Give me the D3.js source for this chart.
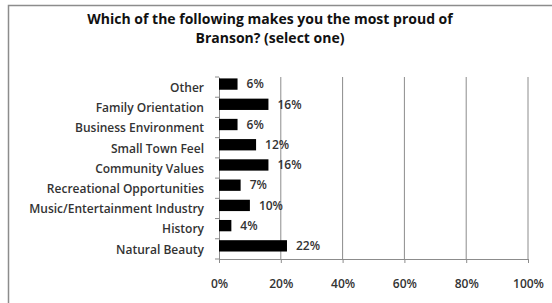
<!DOCTYPE html>
<html>
<head>
<meta charset="utf-8">
<script src="https://cdn.jsdelivr.net/npm/d3@7"></script>
<style>
  body { margin: 0; background: #fff; }
  svg text { font-family: "Open Sans", "Liberation Sans", Arial, sans-serif; fill: #333; }
</style>
</head>
<body>
<div id="chart"></div>
<script>
const categories = ["Other", "Family Orientation", "Business Environment", "Small Town Feel",
  "Community Values", "Recreational Opportunities", "Music/Entertainment Industry", "History", "Natural Beauty"]
const values = [6, 16, 6, 12, 16, 7, 10, 4, 22]
const xTicks = [0, 20, 40, 60, 80, 100]
const titleLines = ["Which of the following makes you the most proud of", "Branson? (select one)"]

const W = 552, H = 303
const margin = {top: 77, left: 219, right: 24, bottom: 44}
const w = W - margin.left - margin.right,
  h = H - margin.top - margin.bottom

const svg = d3.select("#chart").append("svg")
  .attr("width", W)
  .attr("height", H)

// outer chart border
svg.append("rect")
  .attr("x", 8.5).attr("y", 5.5)
  .attr("width", W).attr("height", H)
  .attr("fill", "none")
  .attr("stroke", "#8c8c8c")
  .attr("stroke-width", 1.5)

svg.append("g").selectAll("text")
  .data(titleLines)
  .enter().append("text")
  .attr("x", 270)
  .attr("y", (d, i) => 24 + i * 19)
  .attr("text-anchor", "middle")
  .style("font-weight", "bold")
  .style("font-size", "14px")
  .style("fill", "#111")
  .text(d => d)

const g = svg.append("g")
  .attr("transform", `translate(${margin.left},${margin.top})`)

const x = d3.scaleLinear().domain([0, 100]).range([0, w])
const y = d3.scaleBand().domain(categories).range([0, h])

// vertical gridlines
g.selectAll(".grid")
  .data(xTicks.slice(1))
  .enter().append("line")
  .attr("class", "grid")
  .attr("x1", d => x(d)).attr("x2", d => x(d))
  .attr("y1", 0).attr("y2", h)
  .attr("stroke", "#8c8c8c")
  .attr("stroke-width", 1)

const xAxis = d3.axisBottom(x).tickValues(xTicks).tickFormat(d => d + "%").tickSize(4).tickPadding(16)
g.append("g")
  .attr("transform", `translate(0,${h})`)
  .call(xAxis)
  .call(a => a.select(".domain").attr("stroke", "#8c8c8c"))
  .call(a => a.selectAll(".tick line").attr("stroke", "#8c8c8c"))
  .call(a => a.selectAll("text").style("font-size", "12px").style("font-weight", "600")
    .style("font-family", "'Open Sans', sans-serif").style("fill", "#333"))

const yAxis = d3.axisLeft(y).tickSize(0).tickPadding(15)
g.append("g")
  .call(yAxis)
  .call(a => a.select(".domain").attr("stroke", "#8c8c8c"))
  .call(a => a.selectAll("text").style("font-size", "12px").style("font-weight", "600")
    .style("font-family", "'Open Sans', sans-serif").style("fill", "#333").attr("dy", "0.4em"))

// category boundary ticks
g.selectAll(".ytick")
  .data(categories.concat([null]))
  .enter().append("line")
  .attr("x1", -4).attr("x2", 0)
  .attr("y1", (d, i) => i * y.step()).attr("y2", (d, i) => i * y.step())
  .attr("stroke", "#8c8c8c")

g.selectAll(".bar")
  .data(categories)
  .enter().append("rect")
  .attr("class", "bar")
  .attr("x", 0)
  .attr("y", d => y(d) + y.bandwidth() * 0.07)
  .attr("width", (d, i) => x(values[i]))
  .attr("height", y.bandwidth() * 0.56)
  .attr("fill", "#000")

g.selectAll(".val")
  .data(categories)
  .enter().append("text")
  .attr("class", "val")
  .attr("x", (d, i) => x(values[i]) + 9)
  .attr("y", d => y(d) + y.bandwidth() * 0.35)
  .attr("dy", "0.35em")
  .style("font-size", "12px")
  .style("font-weight", "600")
  .text((d, i) => values[i] + "%")
</script>
</body>
</html>
